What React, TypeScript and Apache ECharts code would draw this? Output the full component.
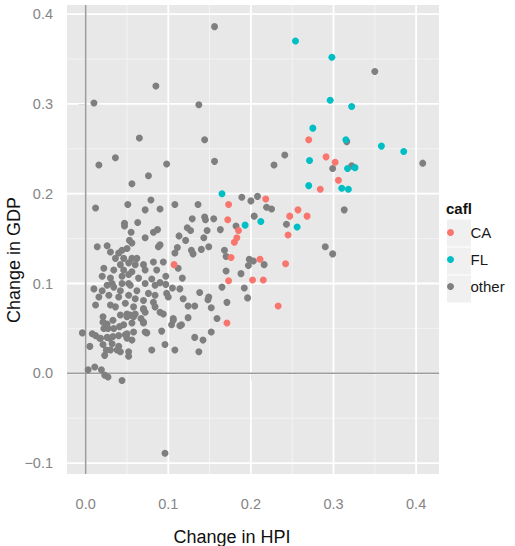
import React, { useEffect, useRef } from "react";
import * as echarts from "echarts";

// ---- data ----
const caPoints: number[][] = [
  [0.270, 0.260], [0.291, 0.241], [0.302, 0.235], [0.306, 0.215], [0.284, 0.205],
  [0.218, 0.194], [0.257, 0.182], [0.247, 0.175], [0.268, 0.175], [0.245, 0.154],
  [0.211, 0.127], [0.242, 0.122], [0.202, 0.104], [0.215, 0.104], [0.233, 0.075],
  [0.173, 0.188], [0.172, 0.171], [0.185, 0.159], [0.183, 0.151], [0.180, 0.146],
  [0.176, 0.129], [0.107, 0.121], [0.173, 0.103], [0.171, 0.056],
];

const flPoints: number[][] = [
  [0.254, 0.370], [0.298, 0.352], [0.296, 0.304], [0.322, 0.297], [0.275, 0.273],
  [0.315, 0.260], [0.358, 0.253], [0.385, 0.247], [0.271, 0.237], [0.317, 0.228],
  [0.326, 0.229], [0.270, 0.209], [0.310, 0.206], [0.318, 0.205], [0.212, 0.169],
  [0.193, 0.165], [0.256, 0.163], [0.165, 0.200],
];

const otherPoints: number[][] = [
  [0.156, 0.386], [0.085, 0.320], [0.010, 0.301], [0.137, 0.299], [0.065, 0.262],
  [0.144, 0.260], [0.036, 0.240], [0.016, 0.232], [0.098, 0.233], [0.156, 0.236],
  [0.350, 0.336], [0.316, 0.258], [0.241, 0.243], [0.228, 0.232], [0.408, 0.234],
  [0.299, 0.228], [0.322, 0.231], [0.189, 0.196], [0.200, 0.192], [0.208, 0.197],
  [0.219, 0.185], [0.225, 0.183], [0.313, 0.182], [0.204, 0.175], [0.243, 0.166],
  [0.290, 0.141], [0.299, 0.133], [0.198, 0.127], [0.203, 0.125], [0.197, 0.120],
  [0.216, 0.121], [0.188, 0.111], [0.192, 0.095], [0.196, 0.084],
  [0.076, 0.220], [0.056, 0.211], [0.012, 0.184], [0.051, 0.188], [0.079, 0.193],
  [0.072, 0.182], [0.090, 0.183], [0.108, 0.188], [0.136, 0.188], [0.129, 0.172],
  [0.144, 0.174], [0.145, 0.171], [0.155, 0.172], [0.047, 0.167], [0.063, 0.168],
  [0.182, 0.164], [0.163, 0.160], [0.147, 0.159], [0.143, 0.151], [0.123, 0.162],
  [0.127, 0.159], [0.113, 0.153], [0.121, 0.148], [0.087, 0.160], [0.082, 0.157],
  [0.072, 0.151], [0.055, 0.157], [0.014, 0.141], [0.026, 0.142], [0.053, 0.148],
  [0.056, 0.145], [0.090, 0.143], [0.088, 0.141], [0.111, 0.140], [0.108, 0.134],
  [0.128, 0.137], [0.130, 0.133], [0.140, 0.138], [0.149, 0.141], [0.168, 0.137],
  [0.170, 0.130], [0.170, 0.114], [0.112, 0.117], [0.117, 0.106], [0.165, 0.096],
  [0.094, 0.124], [0.082, 0.124], [0.086, 0.115], [0.097, 0.108], [0.080, 0.105],
  [0.090, 0.101], [0.097, 0.099], [0.105, 0.095], [0.138, 0.090], [0.149, 0.085],
  [0.118, 0.083], [0.124, 0.075], [0.132, 0.075], [0.152, 0.073], [0.148, 0.082],
  [0.171, 0.079], [0.159, 0.061], [0.021, 0.063], [0.042, 0.065], [0.054, 0.065],
  [0.058, 0.063], [0.067, 0.061], [0.090, 0.068], [0.094, 0.066], [0.106, 0.061],
  [0.124, 0.062], [0.047, 0.164], [0.030, 0.135], [0.040, 0.134], [0.044, 0.137],
  [0.050, 0.139], [0.036, 0.128], [0.046, 0.128], [0.056, 0.128], [0.062, 0.128],
  [0.042, 0.121], [0.052, 0.123], [0.060, 0.121], [0.022, 0.117], [0.034, 0.115],
  [0.046, 0.115], [0.056, 0.113], [0.020, 0.108], [0.030, 0.106], [0.044, 0.108],
  [0.052, 0.110], [0.064, 0.106], [0.032, 0.100], [0.044, 0.100], [0.052, 0.100],
  [0.070, 0.121], [0.072, 0.115], [0.010, 0.094], [0.020, 0.092], [0.026, 0.098],
  [0.034, 0.096], [0.042, 0.092], [0.054, 0.098], [0.062, 0.092], [0.016, 0.085],
  [0.028, 0.087], [0.040, 0.085], [0.052, 0.087], [0.060, 0.083], [0.012, 0.076],
  [0.030, 0.076], [0.036, 0.074], [0.048, 0.078], [0.058, 0.074], [0.050, 0.066],
  [0.060, 0.066], [0.026, 0.055], [0.046, 0.054], [0.022, 0.050], [0.034, 0.050],
  [0.040, 0.042], [0.050, 0.044], [0.058, 0.046], [0.012, 0.042], [0.018, 0.039],
  [0.026, 0.040], [-0.004, 0.045], [0.072, 0.100], [0.084, 0.098], [0.114, 0.094],
  [0.076, 0.089], [0.084, 0.087], [0.098, 0.089], [0.100, 0.085], [0.070, 0.081],
  [0.082, 0.079], [0.084, 0.074], [0.070, 0.072], [0.072, 0.068], [0.104, 0.054],
  [0.116, 0.054], [0.070, 0.057], [0.072, 0.046], [0.092, 0.047], [0.132, 0.040],
  [0.005, 0.030], [0.025, 0.026], [0.038, 0.026], [0.023, 0.020], [0.052, 0.024],
  [0.052, 0.019], [0.080, 0.026], [0.096, 0.032], [0.108, 0.026], [0.142, 0.037],
  [0.003, 0.004], [0.011, 0.007], [0.019, 0.004], [0.023, -0.002], [0.027, -0.004],
  [0.044, -0.008], [0.008, 0.044], [0.137, 0.024], [0.152, 0.046], [0.096, -0.089],
  [0.021, 0.057], [0.025, 0.052], [0.027, 0.050], [0.033, 0.059], [0.041, 0.052],
  [0.050, 0.063], [0.056, 0.056], [0.017, 0.039], [0.029, 0.039], [0.033, 0.041],
  [0.032, 0.033], [0.021, 0.032], [0.048, 0.043], [0.050, 0.039], [0.056, 0.037],
  [0.030, 0.026], [0.040, 0.030], [0.042, 0.024], [0.070, 0.071], [0.070, 0.056],
  [0.074, 0.045], [0.106, 0.059], [0.114, 0.053],
];

const xTicks = [0, 0.1, 0.2, 0.3, 0.4];
const yTicks = [-0.1, 0, 0.1, 0.2, 0.3, 0.4];
const xMinor = [0.05, 0.15, 0.25, 0.35];
const yMinor = [-0.05, 0.05, 0.15, 0.25, 0.35];
const xRange = [-0.0226, 0.4277];
const yRange = [-0.1121, 0.4101];
const categories = ["CA", "FL", "other"];
const colors = ["#F8766D", "#00BFC4", "#7F7F7F"];

const FONT = "Liberation Sans, Arial, Helvetica, sans-serif";

const fmt = (v: number) => (v < 0 ? "\u2212" + Math.abs(v).toFixed(1) : v.toFixed(1));

export default function App() {
  const ref = useRef<HTMLDivElement>(null);

  useEffect(() => {
    if (!ref.current) return;
    const chart = echarts.init(ref.current, undefined, { renderer: "svg" });

    // grid-line records: [direction (0 vertical / 1 horizontal), value, kind (0 minor, 1 major, 2 zero)]
    const lines: number[][] = [
      ...xMinor.map((v) => [0, v, 0]),
      ...yMinor.map((v) => [1, v, 0]),
      ...xTicks.map((v) => [0, v, 1]),
      ...yTicks.map((v) => [1, v, 1]),
      [0, 0, 2],
      [1, 0, 2],
    ];

    const option: any = {
      animation: false,
      backgroundColor: "#ffffff",
      grid: {
        left: 67,
        top: 5,
        width: 372,
        height: 469,
        show: true,
        backgroundColor: "#E8E8E8",
        borderWidth: 0,
        outerBoundsMode: "none",
      },
      xAxis: {
        type: "value",
        min: xRange[0],
        max: xRange[1],
        axisLine: { show: false },
        splitLine: { show: false },
        axisTick: {
          show: true,
          customValues: xTicks,
          length: 7,
          lineStyle: { color: "#7F7F7F", width: 1 },
        },
        axisLabel: {
          customValues: xTicks,
          formatter: fmt,
          color: "#858585",
          fontSize: 14.5,
          fontFamily: FONT,
          margin: 22,
        },
      },
      yAxis: {
        type: "value",
        min: yRange[0],
        max: yRange[1],
        axisLine: { show: false },
        splitLine: { show: false },
        axisTick: {
          show: true,
          customValues: yTicks,
          length: 7,
          lineStyle: { color: "#7F7F7F", width: 1 },
        },
        axisLabel: {
          customValues: yTicks,
          formatter: fmt,
          color: "#858585",
          fontSize: 14.5,
          fontFamily: FONT,
          margin: 14,
        },
      },
      legend: {
        data: categories,
        orient: "vertical",
        left: 447,
        top: 225,
        padding: 0,
        icon: "circle",
        itemWidth: 24,
        itemHeight: 7,
        itemGap: 12,
        selectedMode: false,
        textStyle: {
          fontSize: 15,
          fontFamily: FONT,
          color: "#1a1a1a",
          lineHeight: 15,
          padding: [0, 0, 0, 3],
        },
      },
      graphic: [
        ...[233, 261, 289].map((cy) => ({
          type: "rect",
          z: 0,
          shape: { x: 447, y: cy - 13.5, width: 24, height: 27 },
          style: { fill: "#F0F0F0" },
        })),
        {
          type: "text",
          x: 446,
          y: 208,
          style: {
            text: "cafl",
            fontSize: 15,
            fontWeight: "bold",
            fontFamily: FONT,
            fill: "#111",
            textAlign: "left",
            textVerticalAlign: "middle",
          },
        },
        {
          type: "text",
          x: 232,
          y: 537,
          style: {
            text: "Change in HPI",
            fontSize: 18,
            fontFamily: FONT,
            fill: "#111",
            textAlign: "center",
            textVerticalAlign: "middle",
          },
        },
        {
          type: "text",
          x: 14,
          y: 260,
          rotation: Math.PI / 2,
          style: {
            text: "Change in GDP",
            fontSize: 18,
            fontFamily: FONT,
            fill: "#111",
            textAlign: "center",
            textVerticalAlign: "middle",
          },
        },
      ],
      series: [
        {
          type: "custom",
          name: "gridlines",
          silent: true,
          clip: false,
          data: lines,
          encode: { x: 1, y: 1 },
          renderItem: (params: any, api: any) => {
            const dir = api.value(0);
            const v = api.value(1);
            const kind = api.value(2);
            const cs = params.coordSys;
            let shape;
            if (dir === 0) {
              const p = api.coord([v, 0]);
              shape = { x1: p[0], y1: cs.y, x2: p[0], y2: cs.y + cs.height };
            } else {
              const p = api.coord([0, v]);
              shape = { x1: cs.x, y1: p[1], x2: cs.x + cs.width, y2: p[1] };
            }
            const style =
              kind === 0
                ? { stroke: "#F3F3F3", lineWidth: 1 }
                : kind === 1
                ? { stroke: "#FFFFFF", lineWidth: 1.8 }
                : { stroke: "#9C9C9C", lineWidth: 1.6 };
            return { type: "line", shape, style };
          },
        },
        {
          type: "scatter",
          name: "other",
          data: otherPoints,
          symbolSize: 7,
          itemStyle: { color: colors[2], opacity: 1 },
        },
        {
          type: "scatter",
          name: "CA",
          data: caPoints,
          symbolSize: 7,
          itemStyle: { color: colors[0], opacity: 1 },
        },
        {
          type: "scatter",
          name: "FL",
          data: flPoints,
          symbolSize: 7,
          itemStyle: { color: colors[1], opacity: 1 },
        },
      ],
    };

    chart.setOption(option);
    return () => chart.dispose();
  }, []);

  return (
    <div
      ref={ref}
      style={{ position: "fixed", left: 0, top: 0, width: 515, height: 546, background: "#fff" }}
    />
  );
}
